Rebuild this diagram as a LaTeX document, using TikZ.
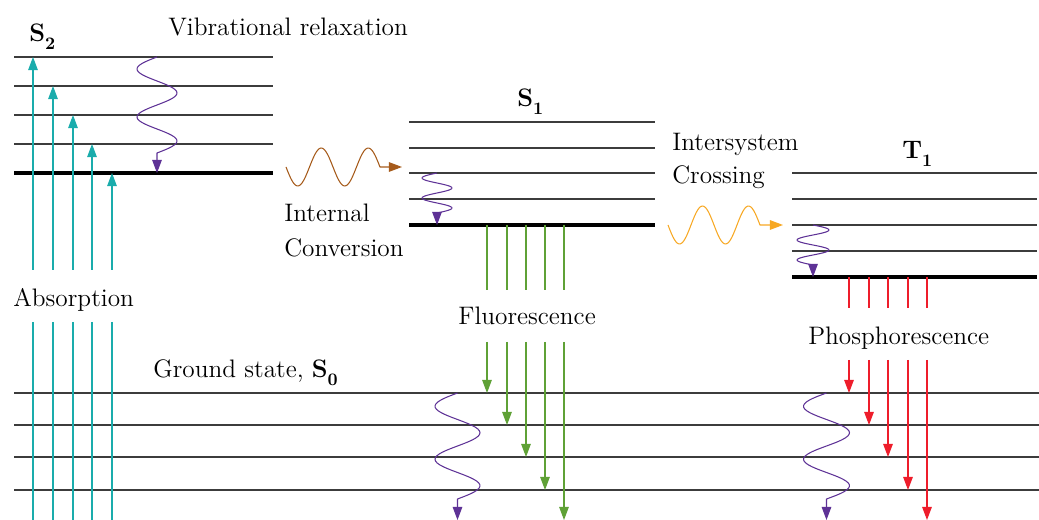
\documentclass[tikz,border=0pt]{standalone}
\usetikzlibrary{arrows.meta}

\definecolor{absorb}{HTML}{1AACAC}
\definecolor{fluor}{HTML}{5FA136}
\definecolor{phos}{HTML}{EE1D2B}
\definecolor{relax}{HTML}{5E3296}
\definecolor{icbrown}{HTML}{A65B1B}
\definecolor{iscorange}{HTML}{F7A823}
\definecolor{levelgray}{HTML}{3C3C3C}

\begin{document}
\begin{tikzpicture}[
    x={(0.02cm,0cm)}, y={(0cm,-0.02cm)},
    lvl/.style={levelgray, line width=0.6pt},
    baselvl/.style={black, line width=2.8pt},
    tip/.style={-{Triangle[length=7.5pt,width=5.5pt]}},
    ray/.style={line width=0.6pt},
    wig/.style={line width=0.6pt, line join=round},
    lbl/.style={font=\fontsize{14.4}{17}\selectfont, anchor=base west, inner sep=0pt},
]

\newcommand{\statelbl}[2]{\textbf{#1}\raisebox{-4.5pt}{\fontsize{10}{12}\selectfont\textbf{#2}}}

% vertical wiggle: centre x, start y, period, amplitude, tip y, colour
\newcommand{\relaxwiggle}[6]{
    \draw[#6, wig, tip]
        plot[domain=#2:#2+2*#3, samples=60, smooth, variable=\t]
            ({#1-#4*sin(360/#3*(\t-#2))}, \t) -- (#1, #5);
}
% horizontal wave: start x, centre y, period, amplitude, tip x, colour
\newcommand{\transferwave}[6]{
    \draw[#6, wig, tip]
        plot[domain=#1:#1+2*#3, samples=60, smooth, variable=\t]
            (\t, {#2+#4*sin(360/#3*(\t-#1))}) -- (#5, #2);
}

\useasboundingbox (0,0) rectangle (1039,520);

% S2
\foreach \yy in {57,86,115,144}
    \draw[lvl] (14,\yy) -- (273,\yy);
\draw[baselvl] (14,173) -- (273,173);
\node[lbl] (stwo) at (29,42) {\statelbl{S}{2}};
\node[lbl] (vibrel) at (168,36) {Vibrational relaxation};

% S1
\foreach \yy in {122,148,173,199}
    \draw[lvl] (409,\yy) -- (655,\yy);
\draw[baselvl] (409,225) -- (655,225);
\node[lbl] (sone) at (517,107) {\statelbl{S}{1}};

% T1
\foreach \yy in {173,199,225,251}
    \draw[lvl] (792,\yy) -- (1037,\yy);
\draw[baselvl] (792,277) -- (1037,277);
\node[lbl] (tone) at (902,159) {\statelbl{T}{1}};

% Ground state
\foreach \yy in {393,425,457,490}
    \draw[lvl] (14,\yy) -- (1039,\yy);
\node[lbl] (szero) at (153,378) {Ground state, \statelbl{S}{0}};

% Absorption
\foreach \xx/\yy in {33/57,53/86,73/115,92/144,112/173} {
    \draw[absorb, ray, tip] (\xx,270) -- (\xx,\yy);
    \draw[absorb, ray] (\xx,322) -- (\xx,520);
}
\node[lbl] (absorp) at (13,307) {Absorption};

% Fluorescence
\foreach \xx/\yy in {487/393,507/425,526/457,545/490,564/520} {
    \draw[fluor, ray] (\xx,225) -- (\xx,290);
    \draw[fluor, ray, tip] (\xx,342) -- (\xx,\yy);
}
\node[lbl] (fluo) at (458,325) {Fluorescence};

% Phosphorescence
\foreach \xx/\yy in {849/393,869/425,888/457,908/490,927/520} {
    \draw[phos, ray] (\xx,277) -- (\xx,308);
    \draw[phos, ray, tip] (\xx,360) -- (\xx,\yy);
}
\node[lbl] (phosph) at (808,345) {Phosphorescence};

% Internal conversion
\transferwave{286}{167}{47}{19}{402}{icbrown}
\node[lbl] (intconv) at (284,222) {Internal};
\node[lbl] (intconvb) at (284,257) {Conversion};

% Intersystem crossing
\transferwave{668}{225}{46}{19}{783}{iscorange}
\node[lbl] (isc) at (672,151) {Intersystem};
\node[lbl] (iscb) at (672,184) {Crossing};

% Non-radiative relaxation
\relaxwiggle{157}{57}{48}{20}{173}{relax}
\relaxwiggle{437}{173}{20}{15}{225}{relax}
\relaxwiggle{813}{225}{20}{-16}{277}{relax}
\relaxwiggle{457.5}{393}{53}{22.5}{520}{relax}
\relaxwiggle{826.5}{393}{53}{23}{520}{relax}

\end{tikzpicture}
\end{document}
